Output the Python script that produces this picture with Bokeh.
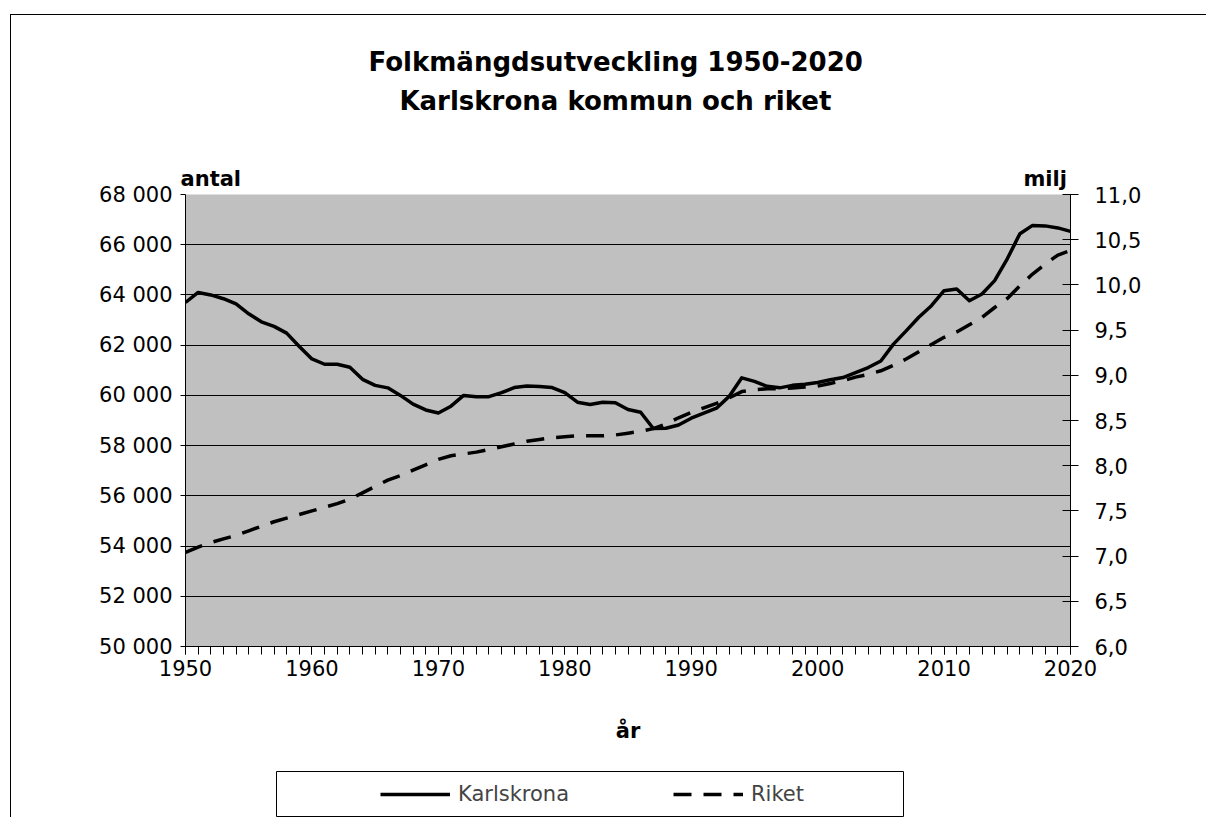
from bokeh.plotting import figure
from bokeh.layouts import column
from bokeh.models import (Range1d, LinearAxis, FixedTicker, CustomJSTickFormatter,
                          Legend, LegendItem, Title, BoxAnnotation)
from bokeh.embed import file_html
from bokeh.resources import INLINE

years = list(range(1950, 2021))
karlskrona = [63700, 64100, 64000, 63850, 63640, 63250, 62930, 62750, 62480, 61950,
              61450, 61240, 61240, 61120, 60640, 60400, 60300, 60000, 59650, 59420,
              59300, 59570, 60000, 59950, 59950, 60110, 60310, 60370, 60350, 60310,
              60110, 59730, 59640, 59730, 59710, 59440, 59330, 58680, 58690, 58820,
              59090, 59290, 59490, 59960, 60700, 60560, 60360, 60300, 60400, 60440,
              60510, 60620, 60710, 60910, 61110, 61370, 62040, 62570, 63110, 63570,
              64170, 64240, 63770, 64040, 64570, 65440, 66440, 66770, 66750, 66670,
              66530]
riket = [7.04, 7.10, 7.15, 7.19, 7.23, 7.28, 7.33, 7.38, 7.42, 7.46,
         7.50, 7.54, 7.58, 7.63, 7.70, 7.77, 7.84, 7.89, 7.95, 8.01,
         8.07, 8.11, 8.13, 8.15, 8.18, 8.21, 8.24, 8.27, 8.29, 8.31,
         8.32, 8.33, 8.33, 8.33, 8.34, 8.36, 8.38, 8.41, 8.46, 8.53,
         8.59, 8.64, 8.69, 8.75, 8.82, 8.84, 8.85, 8.85, 8.86, 8.87,
         8.88, 8.91, 8.94, 8.98, 9.01, 9.05, 9.11, 9.18, 9.26, 9.34,
         9.42, 9.48, 9.56, 9.64, 9.75, 9.85, 9.99, 10.12, 10.23, 10.33,
         10.38]
left_ticks = list(range(50000, 68001, 2000))
left_labels = {v: f"{v // 1000} {v % 1000:03d}" for v in left_ticks}
grid_ticks = list(range(52000, 66001, 2000))
right_ticks = [6.0, 6.5, 7.0, 7.5, 8.0, 8.5, 9.0, 9.5, 10.0, 10.5, 11.0]
x_major = list(range(1950, 2021, 10))
x_minor = list(range(1950, 2021))

title1 = "Folkmängdsutveckling 1950-2020"
title2 = "Karlskrona kommun och riket"
unit_labels = {1952: "antal", 2018: "milj"}
subtitle_pos = {1984: title2}
x_label = "år"
series_names = ["Karlskrona", "Riket"]

FONT = "DejaVu Sans"
W, H = 1195, 750
FL, FT, FR, FB = 174, 179, 1059, 631  # frame edges in canvas px

p = figure(width=W, height=H, x_range=Range1d(1950, 2020), y_range=Range1d(50000, 68000),
           output_backend="svg", toolbar_location=None, title=None,
           min_border_left=FL, min_border_right=W - FR,
           min_border_top=FT, min_border_bottom=H - FB,
           x_axis_location=None, y_axis_location=None)
p.extra_y_ranges = {"milj": Range1d(6, 11)}
p.background_fill_color = "#c0c0c0"
p.border_fill_color = "white"
p.outline_line_color = None
p.xgrid.visible = False
p.ygrid.ticker = FixedTicker(ticks=grid_ticks)
p.ygrid.grid_line_color = "black"
p.ygrid.grid_line_width = 1


def style_axis(ax, size="21px", bold=False):
    ax.axis_line_color = "black"
    ax.axis_line_width = 1
    ax.major_tick_line_color = "black"
    ax.minor_tick_line_color = "black"
    ax.major_label_text_font = FONT
    ax.major_label_text_font_size = size
    ax.major_label_text_color = "black"
    if bold:
        ax.major_label_text_font_style = "bold"


def caption_axis(ax):
    ax.axis_line_color = None
    ax.major_tick_line_color = None
    ax.minor_tick_line_color = None
    ax.major_tick_out = 0
    ax.major_tick_in = 0
    ax.minor_tick_out = 0
    ax.minor_tick_in = 0


# bottom axis with the x label
xaxis = LinearAxis(ticker=FixedTicker(ticks=x_major, minor_ticks=x_minor))
style_axis(xaxis)
xaxis.major_tick_out = 8
xaxis.major_tick_in = 0
xaxis.minor_tick_out = 8
xaxis.minor_tick_in = 0
xaxis.major_label_standoff = 5
xaxis.axis_label = x_label
xaxis.axis_label_text_font = FONT
xaxis.axis_label_text_font_size = "21px"
xaxis.axis_label_text_font_style = "bold"
xaxis.axis_label_text_color = "black"
xaxis.axis_label_standoff = 40
p.add_layout(xaxis, "below")

yleft = LinearAxis(ticker=FixedTicker(ticks=left_ticks, minor_ticks=[]))
yleft.major_label_overrides = left_labels
style_axis(yleft)
yleft.major_tick_out = 5
yleft.major_tick_in = 0
yleft.minor_tick_out = 0
yleft.major_label_standoff = 8
p.add_layout(yleft, "left")

yright = LinearAxis(y_range_name="milj", ticker=FixedTicker(ticks=right_ticks, minor_ticks=[]),
                    formatter=CustomJSTickFormatter(code="return tick.toFixed(1).replace('.', ',');"))
style_axis(yright)
yright.major_tick_out = 8
yright.major_tick_in = 8
yright.minor_tick_out = 0
yright.major_label_standoff = 16
p.add_layout(yright, "right")

# unit captions above the two value axes
units = LinearAxis(ticker=FixedTicker(ticks=list(unit_labels.keys()), minor_ticks=[]))
units.major_label_overrides = unit_labels
style_axis(units, bold=True)
caption_axis(units)
units.major_label_standoff = 4
p.add_layout(units, "above")

# second title line
sub = LinearAxis(ticker=FixedTicker(ticks=list(subtitle_pos.keys()), minor_ticks=[]))
sub.major_label_overrides = subtitle_pos
style_axis(sub, size="26px", bold=True)
caption_axis(sub)
sub.major_label_standoff = 48
p.add_layout(sub, "above")

t1 = Title(text=title1, align="left", offset=183, text_font=FONT, text_font_size="26px",
           text_font_style="bold", text_color="black", standoff=11)
p.add_layout(t1, "above")

r1 = p.line(years, karlskrona, line_color="black", line_width=3.5, line_join="round")
r2 = p.line(years, riket, y_range_name="milj", line_color="black", line_width=3.5,
            line_dash="18 12")

# legend strip: same side borders as the main plot (column aligns them),
# pixel-unit ranges inside its frame
LH = 52
LFW = FR - FL
lf = figure(width=W, height=LH, x_range=Range1d(0, LFW), y_range=Range1d(0, LH),
            output_backend="svg", toolbar_location=None, title=None,
            min_border_left=FL, min_border_right=W - FR,
            min_border_top=0, min_border_bottom=0,
            x_axis_location=None, y_axis_location=None)
lf.xgrid.visible = False
lf.ygrid.visible = False
lf.outline_line_color = None
lf.background_fill_color = "white"
lf.border_fill_color = "white"
lf.add_layout(BoxAnnotation(left=91, right=718, top=46, bottom=1,
                            fill_alpha=0, line_color="black", line_alpha=1, line_width=1))
# key samples only (kept outside the visible range)
k_key = lf.line(x=[-50, -40], y=[-50, -40], line_color="black", line_width=3.5)
r_key = lf.line(x=[-50, -40], y=[-50, -40], line_color="black", line_width=3.5,
                line_dash="18 12")
legend = Legend(items=[LegendItem(label=series_names[0], renderers=[k_key]),
                       LegendItem(label=series_names[1], renderers=[r_key])],
                orientation="horizontal", location=(195, 11), margin=0, padding=0,
                border_line_alpha=0, background_fill_alpha=0,
                label_text_font=FONT, label_text_font_size="21px",
                glyph_width=70, glyph_height=24, label_height=24, label_width=112,
                label_standoff=8, spacing=103)
lf.add_layout(legend)

layout = column(p, lf, margin=(14, 0, 0, 10),
                styles={"border-left": "1px solid black", "border-top": "1px solid black"})

open("out.html", "w").write(file_html(layout, INLINE))
